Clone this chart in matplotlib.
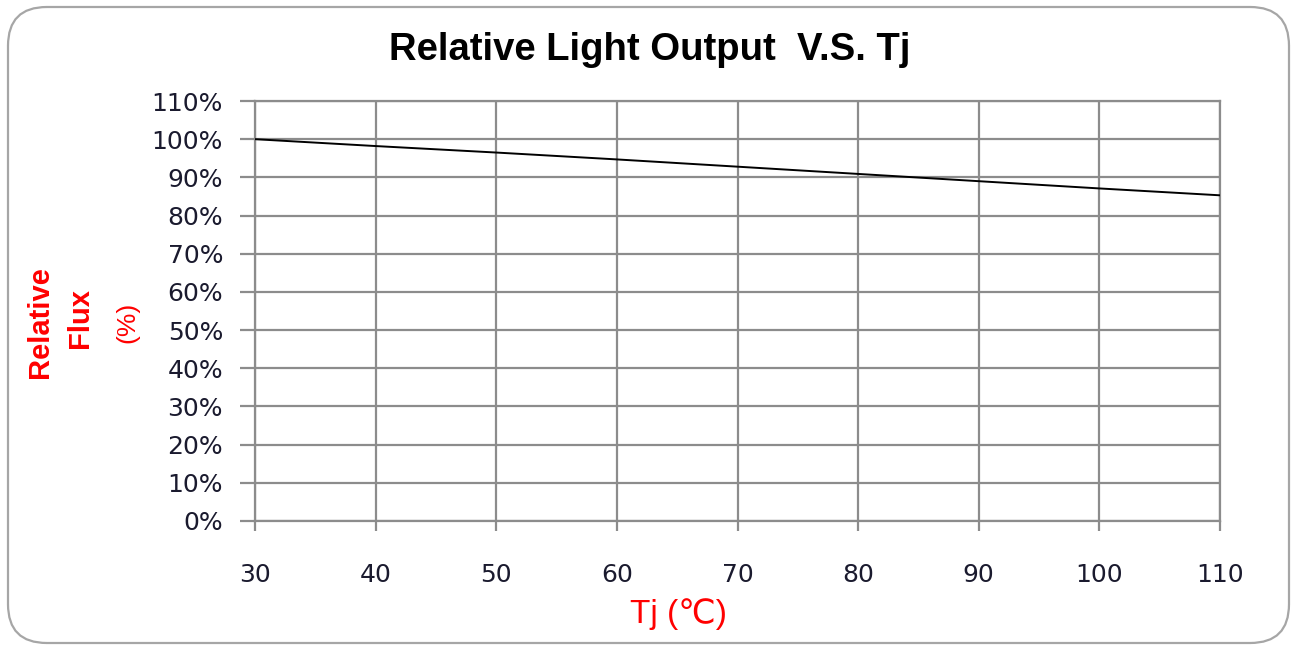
import matplotlib
matplotlib.use("Agg")
import matplotlib.pyplot as plt
from matplotlib.patches import FancyBboxPatch
from matplotlib.ticker import FuncFormatter

tj = [30, 40, 50, 60, 70, 80, 90, 100, 110]
relative_flux = [100.0, 98.2, 96.5, 94.7, 92.8, 90.9, 89.0, 87.1, 85.3]
x_ticks = [30, 40, 50, 60, 70, 80, 90, 100, 110]
y_ticks = [0, 10, 20, 30, 40, 50, 60, 70, 80, 90, 100, 110]
title = "Relative Light Output  V.S. Tj"
xlabel = "Tj (\u2103)"

W, H = 1295, 651
fig = plt.figure(figsize=(W / 100, H / 100), dpi=100)
fig.patch.set_facecolor("white")

# rounded border
border = FancyBboxPatch((8 / W, 8 / H), (1289 - 8) / W, (644 - 8) / H,
                        boxstyle="round,pad=0,rounding_size=0.03",
                        transform=fig.transFigure, facecolor="none",
                        edgecolor="#a6a6a6", linewidth=1.6, mutation_aspect=W / H,
                        zorder=-10)
fig.patches.append(border)

ax = fig.add_axes([255 / W, 1 - 521 / H, (1220 - 255) / W, (521 - 101) / H])
ax.set_facecolor("none")
grid_c = "#8c8c8c"
ax.plot(tj, relative_flux, color="black", linewidth=1.4, zorder=3)
ax.set_xlim(30, 110)
ax.set_ylim(0, 110)
ax.set_xticks(x_ticks)
ax.set_yticks(y_ticks)
ax.yaxis.set_major_formatter(FuncFormatter(lambda v, p: f"{int(v)}%"))
ax.grid(True, color=grid_c, linewidth=1.6)
for s in ax.spines.values():
    s.set_color(grid_c)
    s.set_linewidth(1.6)
ax.tick_params(axis="x", length=7, width=1.6, color=grid_c, pad=23,
               labelsize=18, labelcolor="#1a1a2e")
ax.tick_params(axis="y", length=11, width=1.6, color=grid_c, pad=12,
               labelsize=18, labelcolor="#1a1a2e")
for lbl in ax.get_xticklabels() + ax.get_yticklabels():
    lbl.set_family("DejaVu Sans")

fig.text(650 / W, 1 - 50 / H, title, ha="center", va="center",
         fontsize=27.5, fontweight="bold", family="Liberation Sans", color="black")

fig.text(40 / W, 1 - 322 / H, "Relative", rotation=90, ha="center", va="center",
         fontsize=21, fontweight="bold", family="Liberation Sans", color="red")
fig.text(80 / W, 1 - 318 / H, "Flux", rotation=90, ha="center", va="center",
         fontsize=21, fontweight="bold", family="Liberation Sans", color="red")
fig.text(127 / W, 1 - 322 / H, "(%)", rotation=90, ha="center", va="center",
         fontsize=19, family="Liberation Sans", color="red")

fig.text(678 / W, 1 - 614 / H, xlabel, ha="center", va="center",
         fontsize=24, family=["Liberation Sans", "DejaVu Sans"], color="red")

fig.savefig("out.png", dpi=100, facecolor="white")
